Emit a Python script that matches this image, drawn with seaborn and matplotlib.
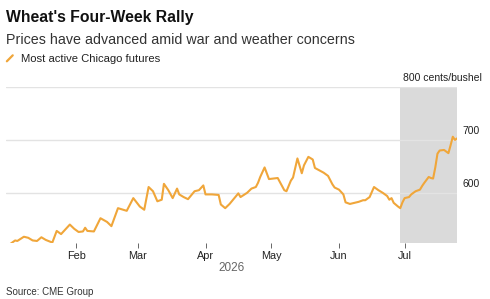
import matplotlib
matplotlib.use("Agg")
import matplotlib.pyplot as plt
import matplotlib.dates as mdates
import matplotlib.transforms as mtransforms
import pandas as pd
import seaborn as sns

# Most active Chicago wheat futures, cents/bushel
dates = [
    "2026-01-02", "2026-01-04", "2026-01-05", "2026-01-08", "2026-01-10",
    "2026-01-12", "2026-01-14", "2026-01-16", "2026-01-18", "2026-01-21",
    "2026-01-23", "2026-01-25", "2026-01-29", "2026-01-31", "2026-02-02",
    "2026-02-04", "2026-02-05", "2026-02-06", "2026-02-09", "2026-02-12",
    "2026-02-15", "2026-02-17", "2026-02-20", "2026-02-24", "2026-02-27",
    "2026-03-02", "2026-03-04", "2026-03-06", "2026-03-08", "2026-03-10",
    "2026-03-12", "2026-03-13", "2026-03-15", "2026-03-17", "2026-03-19",
    "2026-03-20", "2026-03-22", "2026-03-24", "2026-03-27", "2026-03-29",
    "2026-03-31", "2026-04-01", "2026-04-04", "2026-04-07", "2026-04-08",
    "2026-04-10", "2026-04-12", "2026-04-15", "2026-04-16", "2026-04-17",
    "2026-04-20", "2026-04-22", "2026-04-24", "2026-04-25", "2026-04-26",
    "2026-04-28", "2026-04-30", "2026-05-04", "2026-05-07", "2026-05-08",
    "2026-05-10", "2026-05-11", "2026-05-13", "2026-05-15", "2026-05-16",
    "2026-05-18", "2026-05-20", "2026-05-21", "2026-05-25", "2026-05-27",
    "2026-05-29", "2026-05-30", "2026-06-01", "2026-06-03", "2026-06-04",
    "2026-06-06", "2026-06-10", "2026-06-12", "2026-06-13", "2026-06-15",
    "2026-06-17", "2026-06-19", "2026-06-21", "2026-06-23", "2026-06-24",
    "2026-06-25", "2026-06-26", "2026-06-28", "2026-06-29", "2026-06-30",
    "2026-07-01", "2026-07-03", "2026-07-04", "2026-07-06", "2026-07-08",
    "2026-07-09", "2026-07-10", "2026-07-12", "2026-07-13", "2026-07-14",
    "2026-07-15", "2026-07-16", "2026-07-17", "2026-07-19", "2026-07-21",
    "2026-07-22", "2026-07-23", "2026-07-24", "2026-07-25",
]
prices = [
    504, 510, 509, 517, 515,
    510, 509, 516, 511, 506,
    528, 522, 540, 532, 526,
    527, 534, 528, 527, 552,
    545, 537, 571, 566, 590,
    574, 568, 611, 603, 584,
    587, 617, 605, 590, 608,
    597, 592, 588, 603, 605,
    614, 597, 597, 596, 578,
    571, 579, 594, 599, 592,
    600, 608, 611, 619, 630,
    648, 626, 628, 605, 603,
    623, 629, 665, 637, 652,
    668, 663, 647, 638, 632,
    616, 610, 606, 597, 582,
    579, 583, 586, 586, 592,
    611, 605, 600, 594, 587,
    590, 581, 574, 571, 582,
    590, 592, 597, 603, 606,
    613, 619, 630, 628, 627,
    648, 674, 680, 681, 675,
    690, 706, 700, 703,
]
ytick_values = [600, 700, 800]
ytick_labels = ["600", "700", "800 cents/bushel"]
month_ticks = ["2026-02-01", "2026-03-01", "2026-04-01", "2026-05-01", "2026-06-01", "2026-07-01"]
shade_start, shade_end = "2026-06-29", "2026-07-25"

df = pd.DataFrame({"date": pd.to_datetime(dates), "price": prices})

line_color = "#F0A63A"
text_color = "#222222"

sns.set_theme(style="white")
plt.rcParams["font.family"] = ["Liberation Sans", "DejaVu Sans"]

fig = plt.figure(figsize=(4.9, 2.99), dpi=100)
ax = fig.add_axes([0.013, 0.187, 0.92, 0.522])

ax.axvspan(pd.Timestamp(shade_start), pd.Timestamp(shade_end), color="#DADADA", lw=0, zorder=0)
for v in ytick_values:
    ax.axhline(v, color="#E3E3E3", lw=1, zorder=1)

sns.lineplot(data=df, x="date", y="price", ax=ax, color=line_color, lw=1.5, zorder=3)

ax.set_xlim(pd.Timestamp("2025-12-31"), pd.Timestamp("2026-07-25"))
ax.set_ylim(505, 800)
for s in ax.spines.values():
    s.set_visible(False)

ax.set_xticks(pd.to_datetime(month_ticks))
ax.xaxis.set_major_formatter(mdates.DateFormatter("%b"))
ax.tick_params(axis="x", length=3.5, width=0.7, color="#666666", pad=2,
               labelsize=7.8, labelcolor=text_color, bottom=True)
ax.set_yticks([])
ax.set_xlabel("2026", fontsize=8.5, color="#666666", labelpad=1)
ax.set_ylabel("")

# right-side value labels sitting just above their gridlines
trans = mtransforms.blended_transform_factory(ax.transAxes, ax.transData)
off = mtransforms.offset_copy(trans, fig=fig, x=0, y=3, units="points")
for v, lab in zip(ytick_values, ytick_labels):
    if v == 800:
        ax.text(1.054, v, lab, transform=off, ha="right", va="bottom",
                fontsize=7.5, color=text_color, clip_on=False)
    else:
        ax.text(1.012, v, lab, transform=off, ha="left", va="bottom",
                fontsize=7.5, color=text_color, clip_on=False)

fig.text(0.012, 0.942, "Wheat's Four-Week Rally", fontsize=11.3, fontweight="bold",
         color="#111111", ha="left", va="center")
fig.text(0.012, 0.865, "Prices have advanced amid war and weather concerns",
         fontsize=10.3, color="#333333", ha="left", va="center")
fig.lines.append(plt.Line2D([0.014, 0.026], [0.795, 0.815], transform=fig.transFigure,
                            color=line_color, lw=1.6))
fig.text(0.043, 0.804, "Most active Chicago futures", fontsize=8.1,
         color=text_color, ha="left", va="center")
fig.text(0.012, 0.025, "Source: CME Group", fontsize=7.0, color="#333333",
         ha="left", va="center")

fig.savefig("out.png", dpi=100)
